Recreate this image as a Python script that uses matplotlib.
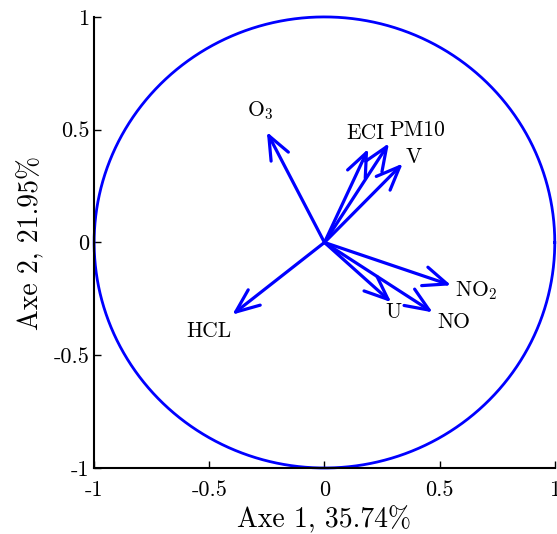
import matplotlib
matplotlib.use("Agg")
import matplotlib.pyplot as plt
import numpy as np

plt.rcParams['font.family'] = ['cmr10', 'DejaVu Serif']
plt.rcParams['mathtext.fontset'] = 'cm'
plt.rcParams['axes.formatter.use_mathtext'] = True

# correlation of each variable with axes 1 and 2
names = ['O$_3$', 'ECI', 'PM10', 'V', 'HCL', 'NO$_2$', 'U', 'NO']
ax1 = [-0.25, 0.19, 0.28, 0.34, -0.40, 0.55, 0.29, 0.47]
ax2 = [0.49, 0.415, 0.44, 0.35, -0.32, -0.19, -0.265, -0.31]
# label positions
lx = [-0.278, 0.178, 0.403, 0.386, -0.503, 0.659, 0.299, 0.56]
ly = [0.585, 0.483, 0.497, 0.377, -0.395, -0.213, -0.31, -0.355]

ticks = [-1, -0.5, 0, 0.5, 1]
tick_labels = ['-1', '-0.5', '0', '0.5', '1']

fig = plt.figure(figsize=(5.57, 5.34), dpi=100)
ax = fig.add_axes([0.169, 0.1236, 0.827, 0.8447])

t = np.linspace(0, 2 * np.pi, 400)
ax.plot(np.cos(t), np.sin(t), color='#0000ff', lw=2.0, clip_on=False)

for i in range(len(names)):
    ax.annotate('', xy=(ax1[i], ax2[i]), xytext=(0, 0),
                arrowprops=dict(arrowstyle='->,head_length=1.7,head_width=0.7',
                                color='#0000ff', lw=2.3, mutation_scale=10,
                                shrinkA=0, shrinkB=0))
    ax.text(lx[i], ly[i], names[i], ha='center', va='center', fontsize=15.5)

ax.set_xlim(-1, 1)
ax.set_ylim(-1, 1)
ax.set_xticks(ticks)
ax.set_xticklabels(tick_labels)
ax.set_yticks(ticks)
ax.set_yticklabels(tick_labels)
ax.tick_params(direction='in', labelsize=16, length=5, width=1)
ax.tick_params(axis='x', pad=9)
ax.spines['top'].set_visible(False)
ax.spines['right'].set_visible(False)
ax.spines['left'].set_linewidth(1.5)
ax.spines['bottom'].set_linewidth(1.5)
ax.set_xlabel('Axe 1, 35.74%', fontsize=20)
ax.set_ylabel('Axe 2, 21.95%', fontsize=20)
ax.xaxis.set_label_coords(0.5, -0.083)
ax.yaxis.set_label_coords(-0.108, 0.5)

fig.savefig('out.png', dpi=100)
